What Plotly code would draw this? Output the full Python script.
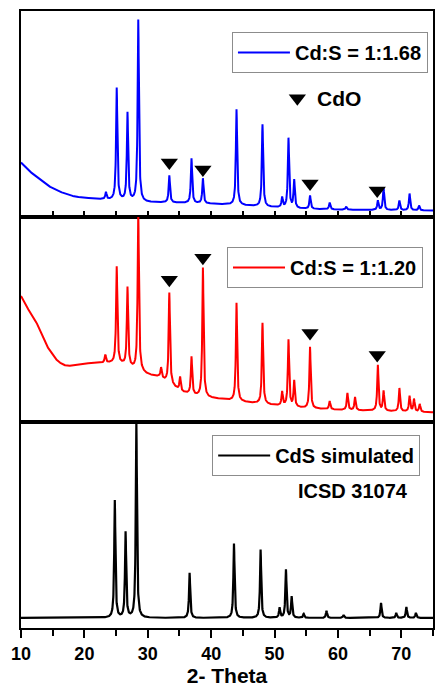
import numpy as np
import plotly.graph_objects as go
from plotly.subplots import make_subplots

FONT = "Liberation Sans"

# 2-theta grid for the diffractograms
two_theta = np.arange(10.0, 75.0001, 0.02)

# ---- Cd:S = 1:1.68 (blue) ----
bg168_x = [10, 11, 12.2, 13.2, 14.2, 15.5, 16.9, 18.2, 19.6, 21.5, 23.2, 26, 30,
           35, 40, 45, 50, 55, 60, 75]
bg168_y = [540, 470, 410, 355, 310, 265, 230, 205, 190, 178, 170, 160, 142,
           138, 128, 112, 92, 78, 70, 60]
pk168_pos = [23.4, 25.1, 26.8, 28.5, 33.4, 36.9, 38.7, 44.0, 48.1, 51.2, 52.2,
             53.1, 55.6, 58.7, 61.3, 66.3, 67.2, 69.7, 71.3, 72.8]
pk168_top = [240, 1280, 1030, 1960, 410, 580, 380, 1070, 920, 190, 780,
             360, 210, 140, 100, 160, 290, 160, 230, 110]
cdo168_pos = [33.4, 38.7, 55.6, 66.2]
cdo168_y = [540, 470, 330, 260]

# ---- Cd:S = 1:1.20 (red) ----
bg120_x = [10, 10.6, 11.4, 12.2, 13.2, 14.2, 15, 15.8, 16.6, 17.4, 18.5, 19.6,
           22, 24.3, 26, 28.7, 30, 31.8, 33.5, 35.4, 37.5, 39.5, 41.7, 44, 47,
           50.6, 55, 60, 65, 75]
bg120_y = [1260, 1180, 1100, 1030, 880, 750, 670, 610, 575, 560, 570, 585,
           590, 590, 575, 510, 475, 450, 380, 300, 265, 245, 230, 210, 190,
           165, 140, 125, 115, 100]
pk120_pos = [23.3, 25.1, 26.8, 28.5, 32.1, 33.4, 35.1, 36.9, 38.7, 44.0, 48.1,
             51.2, 52.2, 53.1, 55.6, 58.7, 61.5, 62.7, 66.3, 67.2, 69.7, 71.3,
             72.0, 72.9]
pk120_top = [670, 1550, 1340, 2090, 540, 1290, 450, 650, 1540, 1190, 990,
             300, 820, 410, 750, 210, 290, 250, 570, 310, 340, 260, 230, 180]
cdo120_pos = [33.4, 38.7, 55.6, 66.2]
cdo120_y = [1420, 1640, 890, 670]

# ---- CdS simulated, ICSD 31074 (black) ----
bg_sim_x = [10, 75]
bg_sim_y = [100, 100]
pk_sim_pos = [24.8, 26.5, 28.2, 36.6, 43.6, 47.8, 50.8, 51.8, 52.7, 54.6,
              58.2, 60.9, 66.8, 69.2, 70.8, 72.3]
pk_sim_top = [1270, 950, 2060, 550, 840, 780, 200, 580, 310, 140,
              170, 130, 250, 150, 210, 150]

Y_MAX = 2050


def pattern(bg_x, bg_y, pos, top, fwhm):
    """Background plus Lorentzian reflections whose apex equals the listed intensity."""
    bg = np.interp(two_theta, bg_x, bg_y)
    y = bg.copy()
    hw = fwhm / 2.0
    for p, t in zip(pos, top):
        h = t - np.interp(p, bg_x, bg_y)
        y += h / (1.0 + ((two_theta - p) / hw) ** 2)
    return y


y168 = pattern(bg168_x, bg168_y, pk168_pos, pk168_top, 0.24)
y120 = pattern(bg120_x, bg120_y, pk120_pos, pk120_top, 0.24)
y_sim = pattern(bg_sim_x, bg_sim_y, pk_sim_pos, pk_sim_top, 0.22)

fig = make_subplots(rows=3, cols=1, shared_xaxes=True, vertical_spacing=0)

tri = dict(symbol="triangle-down", size=15, color="black")

fig.add_trace(go.Scatter(x=two_theta, y=y168, mode="lines", name="Cd:S = 1:1.68",
                         line=dict(color="#0000ff", width=2), legend="legend"),
              row=1, col=1)
fig.add_trace(go.Scatter(x=cdo168_pos, y=cdo168_y, mode="markers", showlegend=False,
                         marker=tri), row=1, col=1)
# key marker for the CdO reflections
fig.add_trace(go.Scatter(x=[53.6], y=[1180], mode="markers", showlegend=False,
                         marker=tri), row=1, col=1)

fig.add_trace(go.Scatter(x=two_theta, y=y120, mode="lines", name="Cd:S = 1:1.20",
                         line=dict(color="#ff0000", width=2), legend="legend2"),
              row=2, col=1)
fig.add_trace(go.Scatter(x=cdo120_pos, y=cdo120_y, mode="markers", showlegend=False,
                         marker=tri), row=2, col=1)

fig.add_trace(go.Scatter(x=two_theta, y=y_sim, mode="lines", name="CdS simulated",
                         line=dict(color="black", width=2.2), legend="legend3"),
              row=3, col=1)

axis_common = dict(showline=True, linecolor="black", linewidth=2, mirror=True,
                   showgrid=False, zeroline=False)

fig.update_xaxes(range=[10, 75], **axis_common)
fig.update_yaxes(range=[0, Y_MAX], ticks="", showticklabels=False, **axis_common)

fig.update_xaxes(row=1, col=1, ticks="inside", tick0=10, dtick=5, ticklen=6,
                 tickwidth=1.5, tickcolor="black", showticklabels=False)
fig.update_xaxes(row=2, col=1, ticks="", showticklabels=False)
fig.update_xaxes(row=3, col=1, ticks="outside", tick0=10, dtick=10, ticklen=8,
                 tickwidth=2, tickcolor="black", showticklabels=True,
                 tickfont=dict(family=FONT, size=18, color="black", weight="bold"),
                 minor=dict(ticks="outside", dtick=5, ticklen=6, tickwidth=2,
                            tickcolor="black"),
                 title=dict(text="2- Theta", standoff=4,
                            font=dict(family=FONT, size=21, color="black", weight="bold")))

legend_style = dict(xanchor="left", yanchor="top", bgcolor="white",
                    bordercolor="#8c8c8c", borderwidth=1, itemwidth=52,
                    font=dict(family=FONT, size=20, color="black", weight="bold"))

fig.update_layout(
    width=436, height=691,
    margin=dict(l=21, r=1, t=11, b=63),
    paper_bgcolor="white", plot_bgcolor="white",
    legend=dict(x=0.512, y=0.966, **legend_style),
    legend2=dict(x=0.50, y=0.6175, **legend_style),
    legend3=dict(x=0.464, y=0.3128, **legend_style),
    annotations=[
        dict(x=56.4, y=1180, xref="x", yref="y", text="CdO", showarrow=False,
             xanchor="left", yanchor="middle",
             font=dict(family=FONT, size=21, color="black", weight="bold")),
        dict(x=62.35, y=1370, xref="x3", yref="y3", text="ICSD 31074",
             showarrow=False, xanchor="center", yanchor="middle",
             font=dict(family=FONT, size=20, color="black", weight="bold")),
    ],
)

fig.write_html("out.html")
